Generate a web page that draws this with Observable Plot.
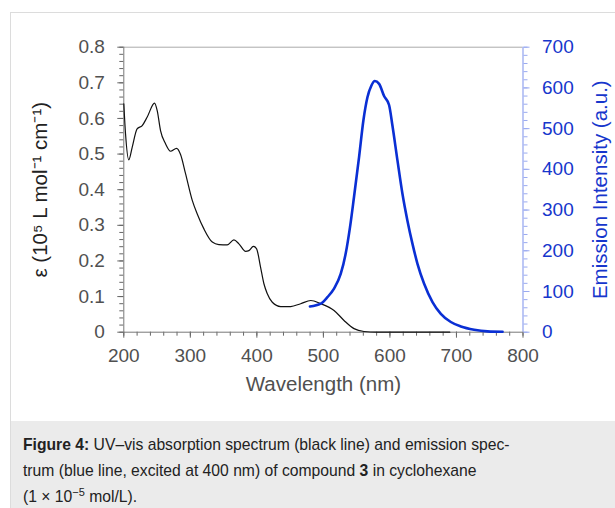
<!DOCTYPE html>
<html>
<head>
<meta charset="utf-8">
<script src="https://cdn.jsdelivr.net/npm/d3@7"></script>
<script src="https://cdn.jsdelivr.net/npm/@observablehq/plot@0.6"></script>
<style>
  html, body { margin: 0; padding: 0; background: #fff; width: 615px; height: 508px; overflow: hidden; }
  body { position: relative; font-family: "Liberation Sans", Arial, Helvetica, sans-serif; }
  #frame { position: absolute; left: 10px; top: 12px; width: 640px; height: 560px; border: 1px solid #dcdcdc; box-sizing: border-box; }
  #chart { position: absolute; left: 0; top: 0; }
  #caption { position: absolute; left: 11px; top: 421px; width: 620px; height: 100px; background: #ebebeb;
    font-size: 15.7px; line-height: 26px; color: #222; padding: 11px 0 0 12px; box-sizing: border-box; white-space: nowrap; }
  #caption sup { font-size: 11px; line-height: 0; vertical-align: 6px; }
</style>
</head>
<body>
<div id="frame"></div>
<div id="chart"></div>
<div id="caption">
  <b>Figure 4:</b> UV–vis absorption spectrum (black line) and emission spec-<br>
  trum (blue line, excited at 400 nm) of compound <b>3</b> in cyclohexane<br>
  (1 × 10<sup>−5</sup> mol/L).
</div>
<script>
// Absorption spectrum (black line): wavelength (nm), epsilon (10^5 L mol^-1 cm^-1)
const absWl  = [200, 202.6, 207.5, 212.6, 220, 227.7, 235.2, 246.2, 250.2, 255.2, 262.7, 270.3, 279.3, 285.3, 292.8, 302.9, 310.4, 320.4, 333, 342.9, 355.5, 365.5, 373, 383.1, 388, 394.7, 399.6, 405.6, 410.6, 415.7, 423.2, 435.7, 450.8, 465.8, 481, 496, 516, 531, 546, 561, 580, 620, 690];
const absVal = [0.641, 0.557, 0.484, 0.519, 0.571, 0.58, 0.604, 0.643, 0.622, 0.566, 0.529, 0.508, 0.516, 0.499, 0.445, 0.370, 0.332, 0.290, 0.253, 0.246, 0.245, 0.259, 0.248, 0.227, 0.229, 0.241, 0.234, 0.182, 0.136, 0.108, 0.084, 0.072, 0.072, 0.080, 0.089, 0.080, 0.061, 0.033, 0.010, 0.002, 0.000, 0.000, 0.000];

// Emission spectrum (blue line): wavelength (nm), intensity (a.u.)
const emWl  = [479.8, 495.9, 506, 516, 526, 533.5, 540, 546, 553.6, 560.1, 566.2, 572.2, 577.2, 583.7, 591.2, 598.7, 603.8, 611.3, 618.8, 626.3, 633.9, 641.4, 651.4, 664, 676.5, 691.5, 706.6, 726.6, 746.7, 769.3];
const emVal = [63, 70, 86, 107, 143, 193, 258, 332, 430, 520, 577, 606, 617, 610, 580, 558, 507, 422, 340, 274, 217, 168, 119, 74, 45, 25, 14, 6, 2, 1];

// Axis ticks
const xTicks = [200, 300, 400, 500, 600, 700, 800];
const yTicks = [0, 0.1, 0.2, 0.3, 0.4, 0.5, 0.6, 0.7, 0.8];
const y2Ticks = [0, 100, 200, 300, 400, 500, 600, 700];

const xLabel = "Wavelength (nm)";
const yLabel = "ε (10⁵ L mol⁻¹ cm⁻¹)";
const y2Label = "Emission Intensity (a.u.)";

const yMax = 0.8, y2Max = 700, k = yMax / y2Max;
const absData = absWl.map((w, i) => ({w, v: absVal[i]}));
const emData = emWl.map((w, i) => ({w, v: emVal[i] * k}));

const xMinor = d3.range(200, 801, 20);
const yMinor = d3.range(0, 41).map(i => i * 0.02);
const y2Minor = d3.range(0, 36).map(i => i * 20 * k);

const gray = "#505050", blue = "#1636cc", lineBlue = "#0a2fd4", lightBlue = "#9aaaf0";
const fs = 19;

const chart = Plot.plot({
  width: 615,
  height: 421,
  marginLeft: 123.3,
  marginRight: 92.5,
  marginTop: 46.7,
  marginBottom: 89.3,
  style: {fontFamily: "'Liberation Sans', Arial, Helvetica, sans-serif", background: "transparent"},
  x: {domain: [200, 800]},
  y: {domain: [0, yMax]},
  marks: [
    Plot.ruleY([yMax], {stroke: "#aaaaaa", strokeWidth: 1}),
    // minor ticks
    Plot.axisX({ticks: xMinor, tickSize: 4, stroke: "#666", tickFormat: () => "", label: null}),
    Plot.axisY({ticks: yMinor, tickSize: 4, stroke: "#666", tickFormat: () => "", label: null}),
    Plot.axisY({anchor: "right", ticks: y2Minor, tickSize: 4, stroke: lightBlue, tickFormat: () => "", label: null}),
    // major ticks and labels
    Plot.axisX({ticks: xTicks, tickSize: 6, tickPadding: 10, stroke: "#666", fill: gray, fontSize: fs, tickFormat: d => String(d), label: null}),
    Plot.axisY({ticks: yTicks, tickSize: 6, tickPadding: 13, stroke: "#666", fill: gray, fontSize: fs, tickFormat: d => d === 0 ? "0" : d3.format(".1f")(d), label: null}),
    Plot.axisY({anchor: "right", ticks: y2Ticks.map(v => v * k), tickSize: 6, tickPadding: 13, stroke: lightBlue, fill: blue, fontSize: fs, tickFormat: v => String(Math.round(v / k)), label: null}),
    // axis lines
    Plot.ruleX([200], {stroke: "#777", strokeWidth: 1}),
    Plot.ruleX([800], {stroke: lightBlue, strokeWidth: 1.3}),
    Plot.ruleY([0], {stroke: "#777", strokeWidth: 1}),
    // data
    Plot.line(absData, {x: "w", y: "v", stroke: "#111", strokeWidth: 1.2, curve: "monotone-x"}),
    Plot.line(emData, {x: "w", y: "v", stroke: lineBlue, strokeWidth: 2.6, curve: "monotone-x"}),
    // titles
    Plot.text([xLabel], {text: d => d, frameAnchor: "bottom", dy: 52, fill: gray, fontSize: 20.5, lineAnchor: "middle", textAnchor: "middle"}),
    Plot.text([yLabel], {text: d => d, frameAnchor: "left", dx: -83, rotate: -90, fill: "#222", fontSize: 20.5, lineAnchor: "middle", textAnchor: "middle"}),
    Plot.text([y2Label], {text: d => d, frameAnchor: "right", dx: 77, rotate: -90, fill: blue, fontSize: 20.5, lineAnchor: "middle", textAnchor: "middle"})
  ]
});
document.getElementById("chart").appendChild(chart);
</script>
</body>
</html>
